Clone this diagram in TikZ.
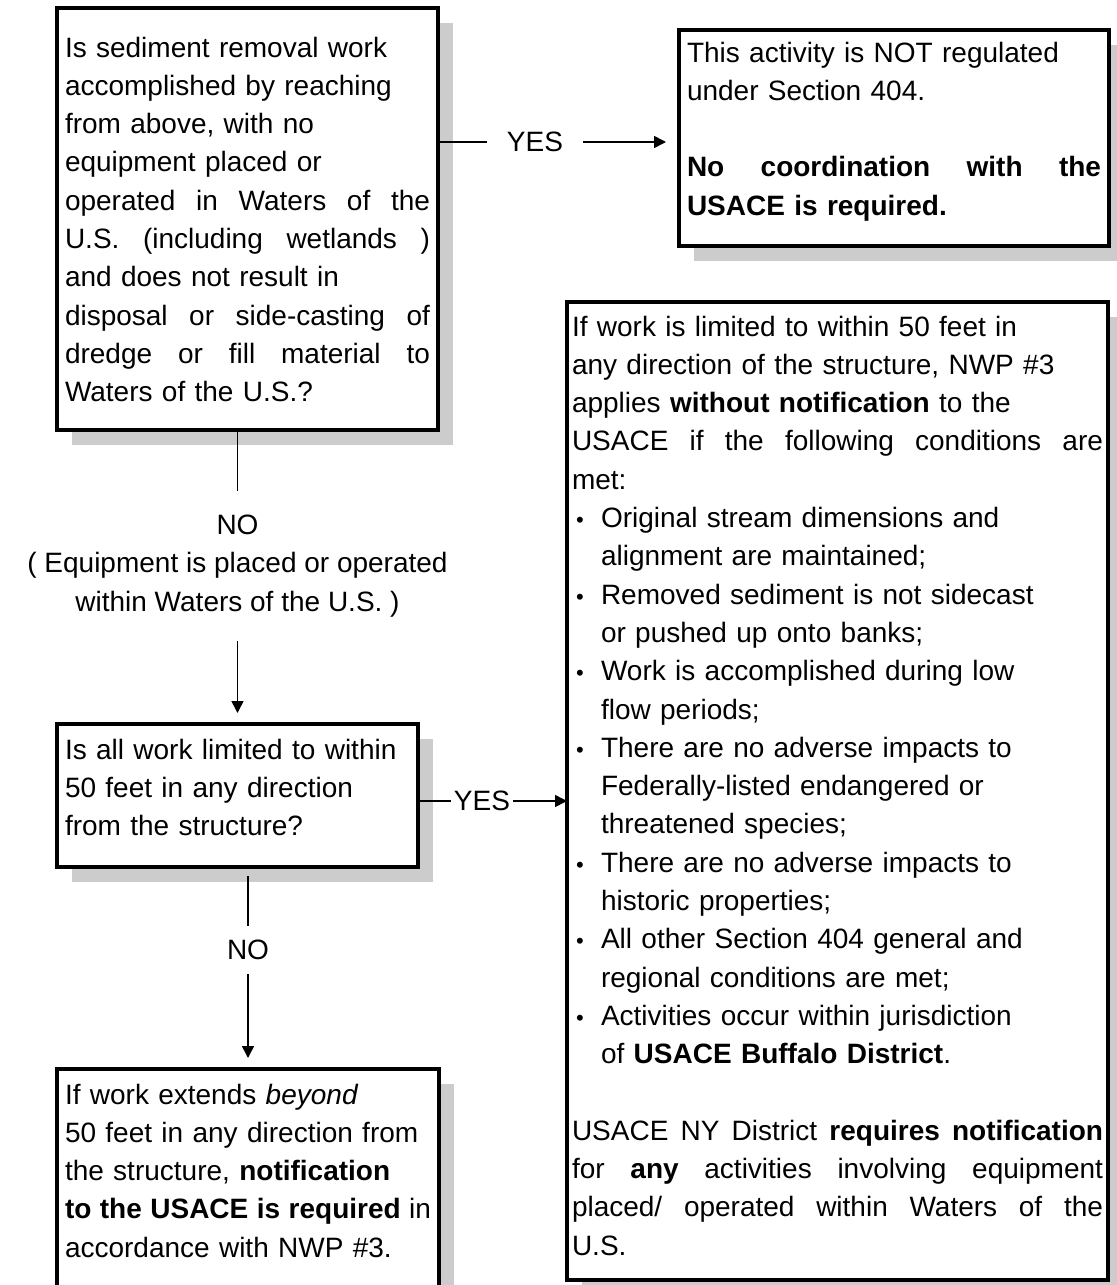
\documentclass[tikz,border=0pt]{standalone}
\usepackage{fontspec}
\setmainfont{Liberation Sans}
\usetikzlibrary{arrows.meta,shadows}
\definecolor{shadegray}{RGB}{204,204,204}
\newcommand{\jline}[1]{\makebox[\hsize][s]{\spaceskip=0pt\xspaceskip=0pt #1}}
\newcommand{\itm}{\makebox[14.5pt][l]{\hspace{2pt}{\fontsize{11}{11}\selectfont\textbullet}}}
\newcommand{\ind}{\hspace*{14.5pt}}
\begin{document}
\begin{tikzpicture}[x=0.5pt, y=-0.5pt,
  every node/.style={font=\fontsize{14}{19.15}\selectfont},
  box/.style={draw, line width=2pt, fill=white, align=left, anchor=north west,
    inner ysep=0pt, inner xsep=4pt, outer sep=0pt,
    drop shadow={shadow xshift=7.5pt, shadow yshift=-7.5pt, fill=shadegray, opacity=1}},
  link/.style={line width=0.8pt},
  arr/.style={link, -{Triangle[length=6pt,width=6pt]}}]
\useasboundingbox (0,0) rectangle (1117,1285);
\clip (0,0) rectangle (1117,1285);

\node[box, text width=182.5pt, text height=24.5pt, text depth=186.5pt] (ques1) at (57,8) {%
Is sediment removal work\\
accomplished by reaching\\
from above, with no\\
equipment placed or\\
\jline{operated in Waters of the}\\
\jline{U.S. (including wetlands )}\\
and does not result in\\
\jline{disposal or side-casting of}\\
\jline{dredge or fill material to}\\
Waters of the U.S.?};

\node[box, text width=207pt, text height=16pt, text depth=92pt] (note1) at (679,30) {%
This activity is NOT regulated\\
under Section 404.\\
\mbox{}\\
\jline{\bfseries No coordination with the}\\
\textbf{USACE is required.}};

\node[box, inner xsep=2.5pt, text width=265.5pt, text height=17pt, text depth=472pt] (note2) at (567,302) {%
If work is limited to within 50 feet in\\
any direction of the structure, NWP \#3\\
applies \textbf{without notification} to the\\
\jline{USACE if the following conditions are}\\
met:\\
\itm Original stream dimensions and\\
\ind alignment are maintained;\\
\itm Removed sediment is not sidecast\\
\ind or pushed up onto banks;\\
\itm Work is accomplished during low\\
\ind flow periods;\\
\itm There are no adverse impacts to\\
\ind Federally-listed endangered or\\
\ind threatened species;\\
\itm There are no adverse impacts to\\
\ind historic properties;\\
\itm All other Section 404 general and\\
\ind regional conditions are met;\\
\itm Activities occur within jurisdiction\\
\ind of \textbf{USACE Buffalo District}.\\
\mbox{}\\
\jline{USACE NY District \textbf{requires notification}}\\
\jline{for \textbf{any} activities involving equipment}\\
\jline{placed/ operated within Waters of the}\\
U.S.};

\node[box, text width=172.5pt, text height=17.5pt, text depth=54pt] (ques2) at (57,724) {%
Is all work limited to within\\
50 feet in any direction\\
from the structure?};

\node[box, text width=183pt, text height=17.5pt, text depth=110pt] (ques3) at (57,1069) {%
If work extends \textit{beyond}\\
50 feet in any direction from\\
the structure, \textbf{notification}\\
\jline{\textbf{to the USACE is required} in}\\
accordance with NWP \#3.};

\node[inner xsep=10pt] (yes1) at (535,142) {YES};
\node[align=center, inner ysep=12pt] (no1) at (237.5,566) {NO\\( Equipment is placed or operated\\within Waters of the U.S. )};
\node[inner xsep=1.5pt] (yes2) at (482,801) {YES};
\node[inner ysep=7pt] (no2) at (248,950) {NO};

\draw[link] (ques1.east |- yes1) -- (yes1);
\draw[arr, shorten >=6.5pt] (yes1) -- (yes1 -| note1.west);
\draw[link] (ques1.south -| ques2.north) -- (no1);
\draw[arr, shorten >=5.5pt] (no1) -- (ques2);
\draw[link] (ques2.east |- yes2) -- (yes2);
\draw[arr] (yes2) -- (yes2 -| note2.west);
\draw[link, shorten <=4.5pt] (ques2.south -| ques3.north) -- (no2);
\draw[arr, shorten >=5.5pt] (no2) -- (ques3);
\end{tikzpicture}
\end{document}
